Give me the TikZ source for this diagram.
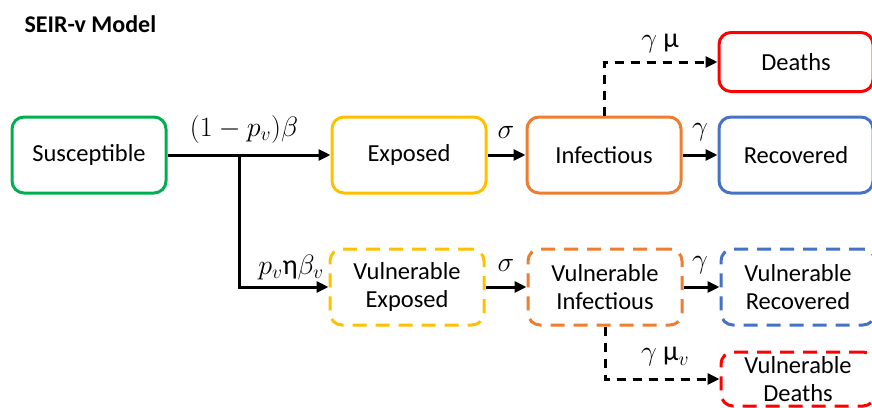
\RequirePackage{fix-cm}
\documentclass[tikz,border=0pt]{standalone}
\usepackage{fontspec}
\setmainfont{Carlito}
\usetikzlibrary{arrows.meta,positioning}

\begin{document}
\begin{tikzpicture}[x=1pt,y=-1pt,
        every node/.style={font=\fontsize{24.5}{28}\selectfont},
        rate/.style={font=\fontsize{28}{30}\selectfont},
        box/.style={draw,line width=3pt,rounded corners=12pt,minimum width=154pt,minimum height=76pt,align=center},
        vbox/.style={box,dash pattern=on 14pt off 9pt},
        flow/.style={line width=3pt,-{Triangle[length=12pt,width=11pt]}},
        dflow/.style={flow,dash pattern=on 9pt off 7pt}]
        %colores
        \definecolor{sgreen}{RGB}{0,176,80}
        \definecolor{eyellow}{RGB}{255,192,0}
        \definecolor{iorange}{RGB}{237,125,49}
        \definecolor{rblue}{RGB}{68,114,196}
        \colorlet{dred}{red}
        \useasboundingbox (0,0) rectangle (872,407);
        \clip (0,0) rectangle (872,407);

        % Titulo
        \node[anchor=base west,font=\fontsize{24}{28}\selectfont\bfseries] (title) at (21,32) {SEIR-v Model};

        % Compartimentos, fila superior
        \node[box,draw=sgreen] (S) at (89,155) {Susceptible};
        \node[box,draw=eyellow] (E) at (409,155) {Exposed};
        \node[box,draw=iorange] (I) at (604,155) {Infectious};
        \node[box,draw=rblue] (R) at (796,155) {Recovered};
        \node[box,draw=dred,minimum height=59pt] (D) at (796,62) {Deaths};

        % Compartimentos vulnerables
        \node[vbox,draw=eyellow] (VE) at (407,287) {Vulnerable\\Exposed};
        \node[vbox,draw=iorange] (VI) at (605,287) {Vulnerable\\Infectious};
        \node[vbox,draw=rblue] (VR) at (798,287) {Vulnerable\\Recovered};
        \node[vbox,draw=dred,minimum height=54pt] (VD) at (798,379) {Vulnerable\\Deaths};

        % Flujos
        \coordinate (split) at (239,155);
        \draw[flow] (S) -- (E);
        \draw[flow] (split) |- (VE);
        \draw[flow] (E) -- (I);
        \draw[flow] (I) -- (R);
        \draw[flow] (VE) -- (VI);
        \draw[flow] (VI) -- (VR);
        \draw[dflow] (I.north) |- (D);
        \draw[dflow] (VI.south) |- (VD);

        % Tasas
        \node[rate] (lbeta) at (244,129) {$(1-p_v)\beta$};
        \node[rate] (lbetav) at (291,267) {$p_v$η$\beta_v$};
        \node[rate] (lsigma) at (506,132) {$\sigma$};
        \node[rate] (lgamma) at (700,132) {$\gamma$};
        \node[rate] (lsigmav) at (506,265) {$\sigma$};
        \node[rate] (lgammav) at (700,265) {$\gamma$};
        \node[rate] (lmu) at (660,44) {$\gamma$ μ};
        \node[rate] (lmuv) at (665,357) {$\gamma$ μ$_v$};
    \end{tikzpicture}
\end{document}
